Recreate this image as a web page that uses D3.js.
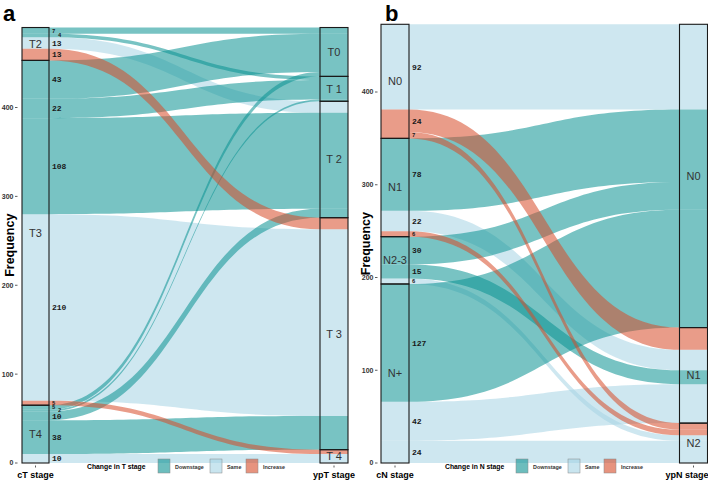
<!DOCTYPE html>
<html>
<head>
<meta charset="utf-8">
<script src="https://cdn.jsdelivr.net/npm/d3@7"></script>
<style>
  body { margin: 0; background: #fff; }
  svg { display: block; font-family: "Liberation Sans", Arial, sans-serif; }
</style>
</head>
<body>
<svg id="chart" width="708" height="483"></svg>
<script>
// panel a: clinical T stage -> pathological T stage
const tLeftStages = ["T2", "T3", "T4"];
const tRightStages = ["T0", "T1", "T2", "T3", "T4"];
const tRightLabels = ["T0", "T 1", "T 2", "T 3", "T 4"];
const tFrom   = ["T2","T2","T2","T2","T3","T3","T3","T3","T3","T4","T4","T4","T4","T4"];
const tTo     = ["T0","T1","T2","T3","T0","T1","T2","T3","T4","T0","T1","T2","T3","T4"];
const tCount  = [7, 4, 13, 13, 43, 22, 108, 210, 5, 5, 2, 10, 38, 10];
const tChange = ["Downstage","Downstage","Same","Increase","Downstage","Downstage","Downstage","Same","Increase",
                 "Downstage","Downstage","Downstage","Downstage","Same"];

// panel b: clinical N stage -> pathological N stage
const nLeftStages = ["N0", "N1", "N2-3", "N+"];
const nRightStages = ["N0", "N1", "N2"];
const nFrom   = ["N0","N0","N0","N1","N1","N1","N2-3","N2-3","N2-3","N+","N+","N+"];
const nTo     = ["N0","N1","N2","N0","N1","N2","N0","N1","N2","N0","N1","N2"];
const nCount  = [92, 24, 7, 78, 22, 6, 30, 15, 6, 127, 42, 24];
const nChange = ["Same","Increase","Increase","Downstage","Same","Increase","Downstage","Downstage","Same",
                 "Downstage","Same","Same"];

const yTicks = [0, 100, 200, 300, 400];
const changeLevels = ["Downstage", "Same", "Increase"];

const color = d3.scaleOrdinal()
    .domain(changeLevels)
    .range(["#0a9191", "#a5d4e4", "#d74b28"]);
const flowAlpha = 0.55;
// paint order: same underneath, increases on top
const paintOrder = { Same: 0, Downstage: 1, Increase: 2 };

const svg = d3.select("#chart");

// stack flows on both axes (top stratum first, lodes ordered by the other axis)
function layoutFlows(from, to, count, change, leftStages, rightStages) {
    const flows = from.map((f, i) => ({ from: f, to: to[i], n: count[i], change: change[i] }));
    const total = d3.sum(count);
    const leftStrata = [], rightStrata = [];
    let cum = 0;
    leftStages.forEach(s => {
        const start = cum;
        flows.filter(d => d.from === s)
            .sort((a, b) => rightStages.indexOf(a.to) - rightStages.indexOf(b.to))
            .forEach(d => { d.l0 = total - cum; cum += d.n; d.l1 = total - cum; });
        leftStrata.push({ name: s, top: total - start, bottom: total - cum });
    });
    cum = 0;
    rightStages.forEach(s => {
        const start = cum;
        flows.filter(d => d.to === s)
            .sort((a, b) => leftStages.indexOf(a.from) - leftStages.indexOf(b.from))
            .forEach(d => { d.r0 = total - cum; cum += d.n; d.r1 = total - cum; });
        rightStrata.push({ name: s, top: total - start, bottom: total - cum });
    });
    return { flows, leftStrata, rightStrata };
}

function drawPanel(opt) {
    const g = svg.append("g");
    const y = d3.scaleLinear().domain([0, 400]).range(opt.yRange);
    const lay = layoutFlows(opt.from, opt.to, opt.count, opt.change, opt.leftStages, opt.rightStages);
    const [lx0, lx1] = opt.leftBox, [rx0, rx1] = opt.rightBox;
    const xm = (lx1 + rx0) / 2;

    // flows (lodes run through the boxes too)
    const painted = lay.flows.slice().sort((a, b) => paintOrder[a.change] - paintOrder[b.change]);
    g.selectAll("path.flow")
        .data(painted)
        .enter()
        .append("path")
        .attr("class", "flow")
        .attr("fill", d => color(d.change))
        .attr("fill-opacity", flowAlpha)
        .attr("d", d => {
            const a0 = y(d.l0), a1 = y(d.l1), b0 = y(d.r0), b1 = y(d.r1);
            return `M${lx0},${a0}H${lx1}C${xm},${a0} ${xm},${b0} ${rx0},${b0}H${rx1}` +
                   `V${b1}H${rx0}C${xm},${b1} ${xm},${a1} ${lx1},${a1}H${lx0}Z`;
        });

    // strata boxes
    const boxes = [
        ...lay.leftStrata.map(s => ({ ...s, x0: lx0, x1: lx1, label: s.name })),
        ...lay.rightStrata.map((s, i) => ({ ...s, x0: rx0, x1: rx1, label: opt.rightLabels[i] }))
    ];
    g.selectAll("rect.stratum")
        .data(boxes)
        .enter()
        .append("rect")
        .attr("x", d => d.x0)
        .attr("y", d => y(d.top))
        .attr("width", d => d.x1 - d.x0)
        .attr("height", d => y(d.bottom) - y(d.top))
        .attr("fill", "none")
        .attr("stroke", "#1a1a1a")
        .attr("stroke-width", 1.1);

    g.selectAll("text.stratum")
        .data(boxes)
        .enter()
        .append("text")
        .attr("x", d => (d.x0 + d.x1) / 2)
        .attr("y", d => (y(d.top) + y(d.bottom)) / 2)
        .attr("dy", "0.35em")
        .attr("text-anchor", "middle")
        .attr("font-size", "11px")
        .attr("fill", "#333")
        .text(d => d.label);

    // counts next to the left axis; very thin lodes under a small one get nudged right
    const ordered = lay.flows.slice().sort((a, b) => b.l0 - a.l0);
    ordered.forEach((d, i) => {
        const prev = ordered[i - 1];
        d.nudge = (prev && d.n < 5 && prev.n < 8) ? 6 : 0;
    });
    g.selectAll("text.count")
        .data(ordered)
        .enter()
        .append("text")
        .attr("x", d => lx1 + 3 + d.nudge)
        .attr("y", d => (y(d.l0) + y(d.l1)) / 2)
        .attr("dy", "0.35em")
        .attr("font-family", "'Liberation Mono', 'DejaVu Sans Mono', monospace")
        .attr("font-weight", "bold")
        .attr("font-size", d => d.n < 8 ? "5.5px" : "8px")
        .attr("fill", "#1a1a1a")
        .text(d => d.n);

    // y axis
    const ax = g.append("g");
    ax.selectAll("line")
        .data(yTicks)
        .enter()
        .append("line")
        .attr("x1", opt.axisX).attr("x2", opt.axisX + 2.5)
        .attr("y1", d => y(d)).attr("y2", d => y(d))
        .attr("stroke", "#333").attr("stroke-width", 0.8);
    ax.selectAll("text")
        .data(yTicks)
        .enter()
        .append("text")
        .attr("x", opt.axisX - 1.5)
        .attr("y", d => y(d))
        .attr("dy", "0.35em")
        .attr("text-anchor", "end")
        .attr("font-size", "7px")
        .attr("font-weight", "bold")
        .attr("fill", "#333")
        .text(d => d);

    g.append("text")
        .attr("transform", `translate(${opt.titleX},${(opt.yRange[0] + y(d3.sum(opt.count))) / 2}) rotate(-90)`)
        .attr("text-anchor", "middle")
        .attr("font-size", "12.5px")
        .attr("font-weight", "bold")
        .text("Frequency");

    // x axis labels
    [[(lx0 + lx1) / 2, opt.xLabels[0]], [(rx0 + rx1) / 2, opt.xLabels[1]]].forEach(([cx, txt]) => {
        g.append("line")
            .attr("x1", cx).attr("x2", cx)
            .attr("y1", 465.5).attr("y2", 467.5)
            .attr("stroke", "#333").attr("stroke-width", 0.8);
        g.append("text")
            .attr("x", Math.min(cx, 687)).attr("y", 478)
            .attr("text-anchor", "middle")
            .attr("font-size", "9px")
            .attr("font-weight", "bold")
            .text(txt);
    });

    // legend
    const leg = g.append("g");
    leg.append("text")
        .attr("x", opt.legendX).attr("y", 469)
        .attr("font-size", "6.8px")
        .attr("font-weight", "bold")
        .text(opt.legendTitle);
    const keyX = [opt.legendX + 71, opt.legendX + 123, opt.legendX + 159];
    changeLevels.forEach((c, i) => {
        leg.append("rect")
            .attr("x", keyX[i]).attr("y", 459)
            .attr("width", 12).attr("height", 14)
            .attr("fill", color(c)).attr("fill-opacity", flowAlpha + 0.05)
            .attr("stroke", "#888").attr("stroke-width", 0.5);
        leg.append("text")
            .attr("x", keyX[i] + 17).attr("y", 468.5)
            .attr("font-size", "5.4px")
            .attr("font-weight", "bold")
            .attr("fill", "#333")
            .text(c);
    });

    svg.append("text")
        .attr("x", opt.tagX).attr("y", 21)
        .attr("font-size", "22px")
        .attr("font-weight", "bold")
        .text(opt.tag);
}

drawPanel({
    tag: "a", tagX: 3,
    from: tFrom, to: tTo, count: tCount, change: tChange,
    leftStages: tLeftStages, rightStages: tRightStages, rightLabels: tRightLabels,
    yRange: [463, 107.5],
    leftBox: [22, 49], rightBox: [320, 348],
    axisX: 15, titleX: 14,
    xLabels: ["cT stage", "ypT stage"],
    legendX: 87, legendTitle: "Change in T stage"
});

drawPanel({
    tag: "b", tagX: 385,
    from: nFrom, to: nTo, count: nCount, change: nChange,
    leftStages: nLeftStages, rightStages: nRightStages, rightLabels: nRightStages,
    yRange: [463, 92],
    leftBox: [381, 409], rightBox: [679.5, 707.5],
    axisX: 375, titleX: 370,
    xLabels: ["cN stage", "ypN stage"],
    legendX: 445, legendTitle: "Change in N stage"
});
</script>
</body>
</html>
